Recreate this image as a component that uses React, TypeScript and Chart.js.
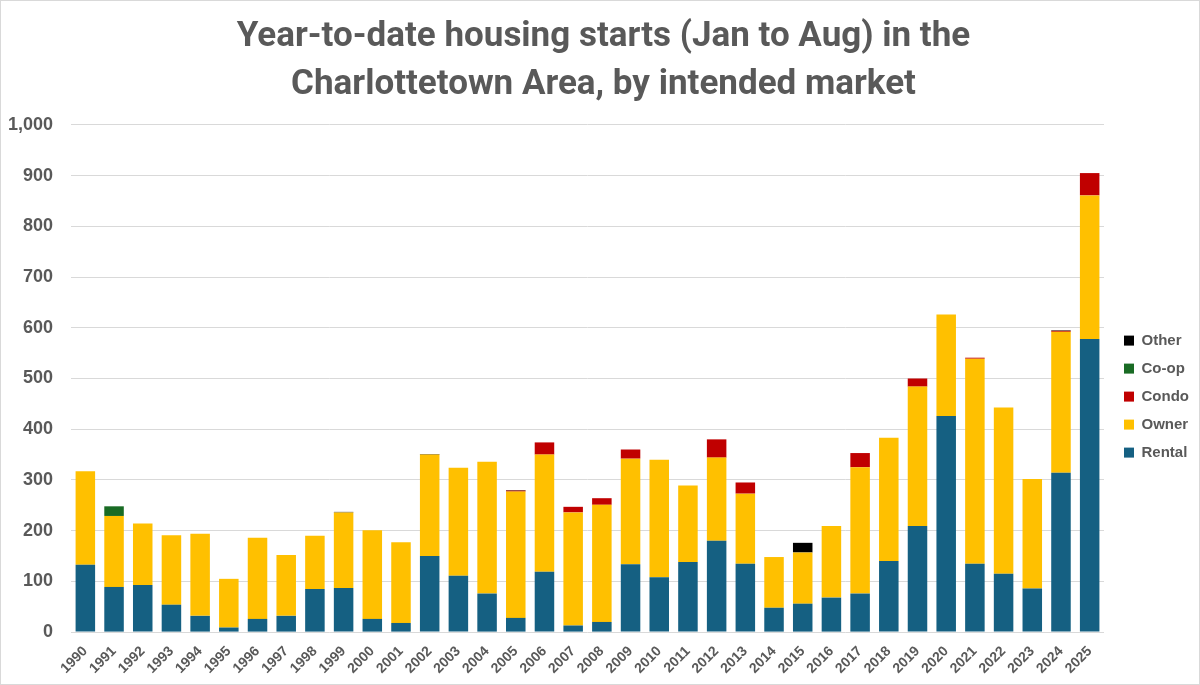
import React, { useEffect, useRef } from "react";
import { Chart, registerables } from "chart.js";

Chart.register(...registerables);

const years = [
  "1990","1991","1992","1993","1994","1995","1996","1997","1998","1999",
  "2000","2001","2002","2003","2004","2005","2006","2007","2008","2009",
  "2010","2011","2012","2013","2014","2015","2016","2017","2018","2019",
  "2020","2021","2022","2023","2024","2025",
];

const rental = [133,89,93,54,32,9,26,32,85,87,26,18,150,111,76,28,119,13,20,134,108,138,180,135,48,56,68,76,140,209,426,135,115,86,314,578];
const owner = [184,140,121,137,162,96,160,120,105,149,175,159,200,213,260,249,231,223,231,208,232,151,164,138,100,101,141,249,243,275,200,404,328,216,278,283];
const condo = [0,0,0,0,0,0,0,0,0,0,0,0,0,0,0,2,24,11,13,18,0,0,36,22,0,0,0,28,0,16,0,2,0,0,2,44];
const coop = [0,19,0,0,0,0,0,0,0,0,0,0,0,0,0,0,0,0,0,0,0,0,0,0,0,0,0,0,0,0,0,0,0,0,0,0];
const other = [0,0,0,0,0,0,0,0,0,1,0,0,1,0,0,1,0,0,0,0,0,0,0,0,0,19,0,0,0,0,0,0,0,0,1,0];

const titleLines = [
  "Year-to-date housing starts (Jan to Aug) in the",
  "Charlottetown Area, by intended market",
];

const yTicks = [0, 100, 200, 300, 400, 500, 600, 700, 800, 900, 1000];

const GRAY = "#595959";
const LEGEND_GAP = 7;

const legendShift = {
  id: "legendShift",
  beforeLayout(chart: any) {
    const lg = chart.legend;
    if (lg && !lg.__patched) {
      const f = lg.fit;
      lg.fit = function (this: any) {
        f.call(this);
        this.width += LEGEND_GAP;
      };
      lg.__patched = true;
    }
  },
  afterLayout(chart: any) {
    const lg = chart.legend;
    if (lg) lg.left += LEGEND_GAP;
  },
};

export default function App() {
  const ref = useRef<HTMLCanvasElement | null>(null);

  useEffect(() => {
    document.body.style.margin = "0";
    const ctx = ref.current!.getContext("2d")!;
    const mk = (label: string, data: number[], color: string) => ({
      label,
      data,
      backgroundColor: color,
      borderWidth: 0,
      barPercentage: 0.68,
      categoryPercentage: 1,
    });
    const chart = new Chart(ctx, {
      type: "bar",
      data: {
        labels: years,
        datasets: [
          mk("Rental", rental, "#156082"),
          mk("Owner", owner, "#FFC000"),
          mk("Condo", condo, "#C00000"),
          mk("Co-op", coop, "#196B24"),
          mk("Other", other, "#000000"),
        ],
      },
      plugins: [legendShift],
      options: {
        animation: false,
        responsive: true,
        maintainAspectRatio: false,
        layout: { padding: { left: 7, right: 0, top: 8, bottom: 4 } },
        plugins: {
          tooltip: { enabled: false },
          title: {
            display: true,
            text: titleLines,
            color: GRAY,
            font: { family: "'Liberation Sans Narrow', Roboto, sans-serif", size: 35, weight: "bold", lineHeight: 1.37 },
            padding: { top: 4, bottom: 16 },
          },
          legend: {
            display: true,
            position: "right",
            reverse: true,
            title: { display: true, text: " ", padding: { top: 43, bottom: 42 }, font: { size: 16 } },
            labels: {
              boxWidth: 10,
              boxHeight: 10,
              padding: 13,
              color: GRAY,
              font: { family: "'Liberation Sans', Arial, sans-serif", size: 15, weight: "bold" },
            },
          },
        },
        scales: {
          x: {
            stacked: true,
            grid: { display: false },
            border: { display: false },
            afterFit: (s: any) => {
              s.paddingLeft = 0;
              s.paddingRight = 0;
            },
            ticks: {
              color: GRAY,
              maxRotation: 45,
              minRotation: 45,
              autoSkip: false,
              font: { family: "'Liberation Sans', Arial, sans-serif", size: 14, weight: "bold" },
            },
          },
          y: {
            stacked: true,
            min: 0,
            max: 1000,
            afterBuildTicks: (axis: any) => {
              axis.ticks = yTicks.map((v) => ({ value: v }));
            },
            afterFit: (s: any) => {
              s.width = 63;
            },
            grid: { color: "#d9d9d9", lineWidth: 1, drawTicks: false },
            border: { display: false },
            ticks: {
              color: GRAY,
              padding: 18,
              font: { family: "'Liberation Sans', Arial, sans-serif", size: 18, weight: "bold" },
              callback: (v: any) => Number(v).toLocaleString("en-US"),
            },
          },
        },
      },
    });
    return () => chart.destroy();
  }, []);

  return (
    <div
      style={{
        position: "absolute",
        left: 0,
        top: 0,
        width: 1200,
        height: 685,
        boxSizing: "border-box",
        border: "1px solid #d9d9d9",
        background: "#fff",
      }}
    >
      <canvas ref={ref} />
    </div>
  );
}
